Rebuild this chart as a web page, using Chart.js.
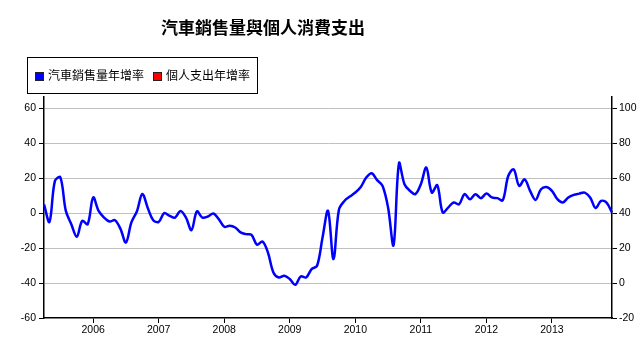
<!DOCTYPE html>
<html>
<head>
<meta charset="utf-8">
<script src="https://cdn.jsdelivr.net/npm/chart.js@4/dist/chart.umd.min.js"></script>
<style>
  html, body { margin: 0; padding: 0; background: #ffffff; }
  #wrap { position: relative; width: 641px; height: 360px; overflow: hidden; }
  #c { position: absolute; left: 0; top: 0; }
  #title { position: absolute; left: 161px; width: 200px; top: 14px; text-align: center; white-space: nowrap;
           font: bold 17px "Noto Sans CJK TC", "Noto Sans CJK SC", sans-serif; color: #000; }
  #legend { position: absolute; left: 27px; top: 57px; width: 229px; height: 35px; border: 1px solid #000;
            font: 12px "Noto Sans CJK TC", "Noto Sans CJK SC", sans-serif; color: #000; }
  .item { position: absolute; top: 9px; white-space: nowrap; line-height: 16px; }
  .sw { display: inline-block; width: 7px; height: 7px; border: 1px solid #222; vertical-align: -1px; margin-right: 4px; }
</style>
</head>
<body>
<div id="wrap">
  <canvas id="c" width="641" height="360"></canvas>
  <div id="title">汽車銷售量與個人消費支出</div>
  <div id="legend">
    <div class="item" style="left:7px"><span class="sw" style="background:#0000ff"></span>汽車銷售量年增率</div>
    <div class="item" style="left:125px"><span class="sw" style="background:#ff0000"></span>個人支出年增率</div>
  </div>
</div>
<script>
// ---- data ----
const startYear = 2005;
const startMonth = 4; // April 2005, monthly through Dec 2013
const carSalesYoY = [
  5, -5, 18.5, 20.5, 1.3, -6.3, -13.5, -4.4, -6.3,
  9, 1.3, -2.5, -4.8, -4, -9, -16.8, -5.3, 1, 11, 3, -4,
  -5, 0, -1.5, -2.5, 1.3, -2.5, -9.7, 1, -2.5, -1.9, -0.2, -3.4,
  -7.8, -7.2, -8.2, -11, -12, -12.4, -18.1, -16.2, -22.5, -33.9, -36.8, -35.8,
  -37.7, -41, -36.2, -36.8, -32, -30.1, -13.9, 1.3, -26.3, 2, 7, 9.5,
  11.8, 15, 20.4, 22.9, 18.9, 15.6, 3.2, -18.3, 28.6, 16.6, 12.8, 10.9,
  16.6, 26.1, 11.8, 16, 0.4, 3.2, 6.1, 5.1, 10.9, 8, 10.9, 8.6,
  11.2, 9, 8.6, 7.4, 21.3, 25.1, 15.6, 19.4, 12.8, 7.6, 13.7, 15,
  12.8, 8, 6.1, 9, 10.5, 11.2, 11.8, 9, 2.9, 7, 6.1, 0.4
];
const personalSpendingYoY = []; // series shown in legend only
const yearLabels = ['2006', '2007', '2008', '2009', '2010', '2011', '2012', '2013'];
const leftTicks = [-60, -40, -20, 0, 20, 40, 60];
const rightTicks = [-20, 0, 20, 40, 60, 80, 100];

const categories = [];
for (let i = 0; i < carSalesYoY.length; i++) {
  const m = startMonth - 1 + i;
  const y = startYear + Math.floor(m / 12);
  const mm = (m % 12) + 1;
  categories.push(y + '-' + String(mm).padStart(2, '0'));
}

const tickFont = { family: '"Liberation Sans", Arial, sans-serif', size: 10.5 };

new Chart(document.getElementById('c'), {
  type: 'line',
  data: {
    labels: categories,
    datasets: [
      { label: '汽車銷售量年增率', data: carSalesYoY, yAxisID: 'y', borderColor: '#0000ff', backgroundColor: '#0000ff',
        borderWidth: 2.5, pointRadius: 0, tension: 0.35, fill: false },
      { label: '個人支出年增率', data: personalSpendingYoY, yAxisID: 'y1', borderColor: '#ff0000', backgroundColor: '#ff0000',
        borderWidth: 2.5, pointRadius: 0, fill: false }
    ]
  },
  options: {
    responsive: false,
    animation: false,
    devicePixelRatio: 1,
    layout: { padding: { top: 97, left: 0, right: 0, bottom: 0 } },
    plugins: { legend: { display: false }, title: { display: false }, tooltip: { enabled: false } },
    scales: {
      x: {
        type: 'category',
        offset: false,
        afterBuildTicks: (s) => {
          s.ticks = s.ticks.filter(t => categories[t.value] && categories[t.value].endsWith('-01'));
        },
        afterFit: (s) => { s.height = 42; },
        ticks: {
          autoSkip: false, maxRotation: 0, color: '#000', font: tickFont, padding: 1,
          callback: function (v) {
            const yr = categories[v].slice(0, 4);
            return yearLabels.includes(yr) ? yr : '';
          }
        },
        grid: { drawOnChartArea: false, drawTicks: true, tickLength: 5, tickColor: '#000' },
        border: { display: true, color: '#000', width: 1.5 }
      },
      y: {
        position: 'left',
        min: -60, max: 66.5,
        afterBuildTicks: (s) => { s.ticks = leftTicks.map(v => ({ value: v })); },
        afterFit: (s) => { s.width = 44; },
        ticks: { color: '#000', font: tickFont, padding: 3 },
        grid: {
          color: (ctx) => (ctx.tick && ctx.tick.value === -60) ? 'rgba(0,0,0,0)' : '#c0c0c0',
          lineWidth: 1, tickLength: 5, tickColor: '#000'
        },
        border: { display: true, color: '#000', width: 1.5 }
      },
      y1: {
        position: 'right',
        min: -20, max: 106.5,
        afterBuildTicks: (s) => { s.ticks = rightTicks.map(v => ({ value: v })); },
        afterFit: (s) => { s.width = 29; },
        ticks: { color: '#000', font: tickFont, padding: 2 },
        grid: { drawOnChartArea: false, tickLength: 5, tickColor: '#000' },
        border: { display: true, color: '#000', width: 1.5 }
      }
    }
  }
});
</script>
</body>
</html>
